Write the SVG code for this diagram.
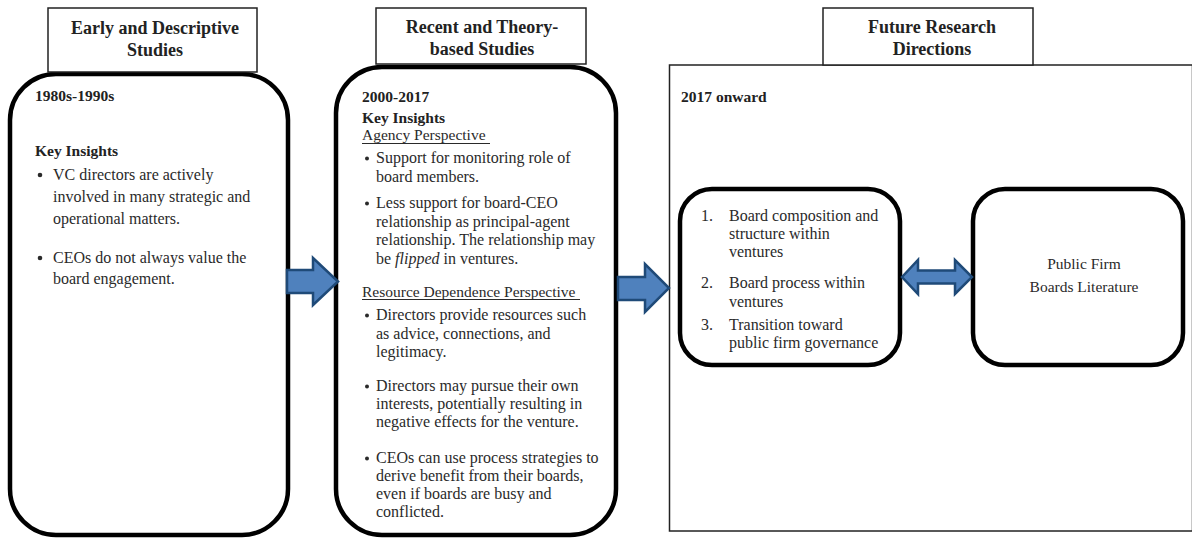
<svg xmlns="http://www.w3.org/2000/svg" width="1192" height="538" viewBox="0 0 1192 538">
<style>
.hdr{fill:#fff;stroke:#222;stroke-width:1.5}
.rbox{fill:#fff;stroke:#000;stroke-width:4.5}
.frame{fill:#fff;stroke:#222;stroke-width:1.5}
.ht{font-family:"Liberation Serif","Times New Roman",serif;font-weight:bold;font-size:18px;fill:#222;text-anchor:middle}
.bt{font-family:"Liberation Serif","Times New Roman",serif;font-weight:bold;font-size:15.5px;fill:#222}
.t{font-family:"Liberation Serif","Times New Roman",serif;font-size:16px;fill:#2a2a2a}
.dot{fill:#2a2a2a}
.ul{stroke:#2a2a2a;stroke-width:1}
.arrow{fill:#4f81bd;stroke:#1f4a78;stroke-width:2.5;stroke-linejoin:miter}
</style>
<rect width="1192" height="538" fill="#fff"/>

<g id="early">
  <rect class="rbox" x="10" y="74" width="278" height="461" rx="46" ry="46"/>
  <rect class="hdr" x="48" y="8" width="209" height="64"/>
  <text class="ht" x="155" y="34">Early and Descriptive</text>
  <text class="ht" x="155" y="56">Studies</text>
  <text class="bt" x="35" y="101">1980s-1990s</text>
  <text class="bt" x="35" y="156">Key Insights</text>
  <circle class="dot" cx="40" cy="175" r="2.3"/>
  <text class="t" x="53" y="180">VC directors are actively</text>
  <text class="t" x="53" y="202">involved in many strategic and</text>
  <text class="t" x="53" y="224">operational matters.</text>
  <circle class="dot" cx="40" cy="258" r="2.3"/>
  <text class="t" x="53" y="263">CEOs do not always value the</text>
  <text class="t" x="53" y="284">board engagement.</text>
</g>

<g id="recent">
  <rect class="rbox" x="336" y="67" width="280" height="468" rx="46" ry="46"/>
  <rect class="hdr" x="376" y="8" width="210" height="56"/>
  <text class="ht" x="482" y="33">Recent and Theory-</text>
  <text class="ht" x="482" y="55">based Studies</text>
  <text class="bt" x="362" y="102">2000-2017</text>
  <text class="bt" x="362" y="123">Key Insights</text>
  <text class="t" x="362" y="140" style="font-size:15.5px">Agency Perspective</text>
  <line class="ul" x1="362" y1="143.5" x2="490" y2="143.5"/>
  <circle class="dot" cx="367" cy="158.5" r="2"/>
  <text class="t" x="376" y="163">Support for monitoring role of</text>
  <text class="t" x="376" y="181.5">board members.</text>
  <circle class="dot" cx="367" cy="203.5" r="2"/>
  <text class="t" x="376" y="208">Less support for board-CEO</text>
  <text class="t" x="376" y="226.5">relationship as principal-agent</text>
  <text class="t" x="376" y="245">relationship. The relationship may</text>
  <text class="t" x="376" y="263.5">be <tspan font-style="italic">flipped</tspan> in ventures.</text>
  <text class="t" x="362" y="297" style="font-size:15.5px">Resource Dependence Perspective</text>
  <line class="ul" x1="362" y1="299.5" x2="580" y2="299.5"/>
  <circle class="dot" cx="367" cy="315.5" r="2"/>
  <text class="t" x="376" y="320">Directors provide resources such</text>
  <text class="t" x="376" y="338.5">as advice, connections, and</text>
  <text class="t" x="376" y="357">legitimacy.</text>
  <circle class="dot" cx="367" cy="386.5" r="2"/>
  <text class="t" x="376" y="391">Directors may pursue their own</text>
  <text class="t" x="376" y="409">interests, potentially resulting in</text>
  <text class="t" x="376" y="427">negative effects for the venture.</text>
  <circle class="dot" cx="367" cy="458.5" r="2"/>
  <text class="t" x="376" y="463">CEOs can use process strategies to</text>
  <text class="t" x="376" y="481">derive benefit from their boards,</text>
  <text class="t" x="376" y="499">even if boards are busy and</text>
  <text class="t" x="376" y="517">conflicted.</text>
</g>

<g id="future">
  <rect class="frame" x="669.5" y="65" width="523" height="466"/>
  <rect class="hdr" x="823" y="8" width="210" height="57"/>
  <text class="ht" x="932" y="33">Future Research</text>
  <text class="ht" x="932" y="55">Directions</text>
  <text class="bt" x="681" y="102">2017 onward</text>
</g>

<g id="directions">
  <rect class="rbox" x="680" y="189" width="220" height="176" rx="32" ry="32"/>
  <text class="t" x="701" y="221">1.</text>
  <text class="t" x="729" y="221">Board composition and</text>
  <text class="t" x="729" y="239">structure within</text>
  <text class="t" x="729" y="257">ventures</text>
  <text class="t" x="701" y="288">2.</text>
  <text class="t" x="729" y="288">Board process within</text>
  <text class="t" x="729" y="307">ventures</text>
  <text class="t" x="701" y="330">3.</text>
  <text class="t" x="729" y="330">Transition toward</text>
  <text class="t" x="729" y="348">public firm governance</text>
</g>

<g id="public">
  <rect class="rbox" x="973" y="189" width="210" height="176" rx="32" ry="32"/>
  <text class="t" x="1084" y="269" text-anchor="middle" style="font-size:15.5px">Public Firm</text>
  <text class="t" x="1084" y="292" text-anchor="middle" style="font-size:15.5px">Boards Literature</text>
</g>

<g id="connectors">
  <polygon class="arrow" points="287,270 313,270 313,258 338,281.5 313,305 313,293 287,293"/>
  <polygon class="arrow" points="618,277 645,277 645,264 669,288 645,312 645,300 618,300"/>
  <polygon class="arrow" points="902,277 918,260 918,270.5 955,270.5 955,260 972,277 955,294 955,283.5 918,283.5 918,294"/>
</g>
</svg>
